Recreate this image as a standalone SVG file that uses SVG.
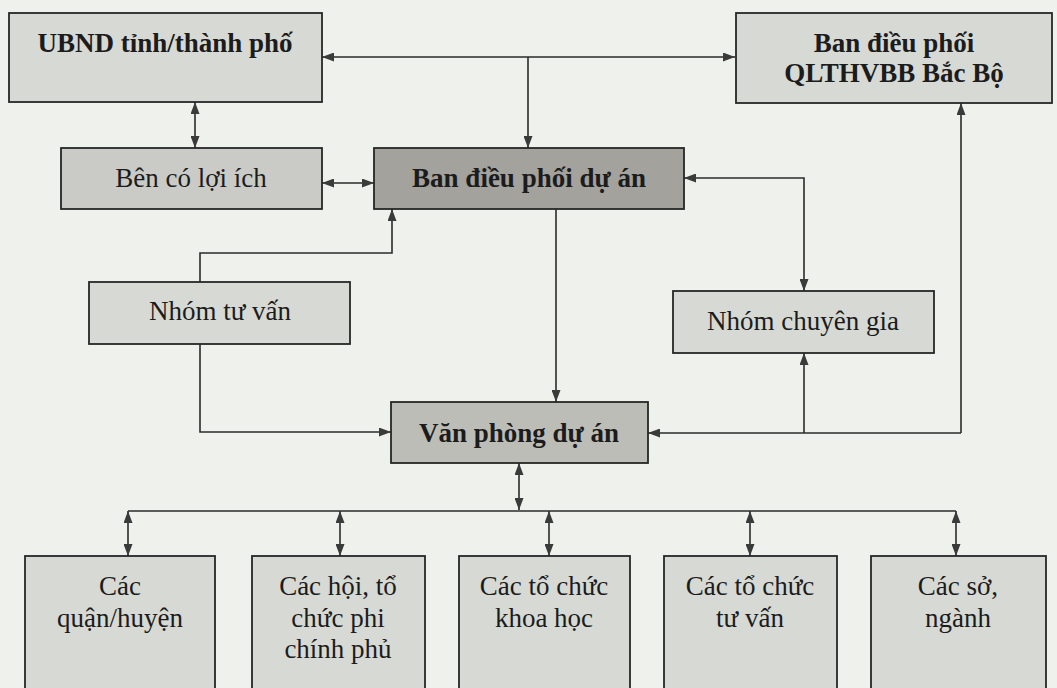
<svg xmlns="http://www.w3.org/2000/svg" width="1057" height="688" viewBox="0 0 1057 688">
<style>
.box{stroke:#262626;stroke-width:1.8}
.light{fill:#d7d9d4}
.mid{fill:#cacbc6}
.dark{fill:#a3a29d}
.vp{fill:#bdbdb8}
text{font-family:"Liberation Serif","Times New Roman",serif;font-size:27px;fill:#1c1c1c;text-anchor:middle}
.b{font-weight:bold}
.c{fill:none;stroke:#2b2b2b;stroke-width:1.6}
</style>
<defs>
<marker id="ah" viewBox="0 0 12 9" refX="12" refY="4.5" markerWidth="12" markerHeight="9" markerUnits="userSpaceOnUse" orient="auto-start-reverse">
<path d="M0,0 L12,4.5 L0,9 z" fill="#3a3a3a"/>
</marker>
</defs>
<rect x="0" y="0" width="1057" height="688" fill="#eff1ec"/>

<g id="connectors">
<path class="c" d="M322,57 H735" marker-start="url(#ah)" marker-end="url(#ah)"/>
<path class="c" d="M528,57 V148" marker-end="url(#ah)"/>
<path class="c" d="M195,102 V148" marker-start="url(#ah)" marker-end="url(#ah)"/>
<path class="c" d="M322,183 H374" marker-start="url(#ah)" marker-end="url(#ah)"/>
<path class="c" d="M684,178 H804 V291" marker-start="url(#ah)" marker-end="url(#ah)"/>
<path class="c" d="M200,282 V253 H392 V209" marker-end="url(#ah)"/>
<path class="c" d="M200,344 V432 H391" marker-end="url(#ah)"/>
<path class="c" d="M556,209 V402" marker-end="url(#ah)"/>
<path class="c" d="M961,433 H648" marker-end="url(#ah)"/>
<path class="c" d="M961,433 V103" marker-end="url(#ah)"/>
<path class="c" d="M804,433 V353" marker-end="url(#ah)"/>
<path class="c" d="M519,463 V510" marker-start="url(#ah)" marker-end="url(#ah)"/>
<path class="c" d="M128,511 H956"/>
<path class="c" d="M128,511 V556" marker-start="url(#ah)" marker-end="url(#ah)"/>
<path class="c" d="M340,511 V556" marker-start="url(#ah)" marker-end="url(#ah)"/>
<path class="c" d="M549,511 V556" marker-start="url(#ah)" marker-end="url(#ah)"/>
<path class="c" d="M750,511 V556" marker-start="url(#ah)" marker-end="url(#ah)"/>
<path class="c" d="M956,511 V556" marker-start="url(#ah)" marker-end="url(#ah)"/>
</g>

<g id="ubnd">
<rect class="box light" x="9" y="13" width="313" height="89"/>
<text class="b" x="165" y="52">UBND tỉnh/thành phố</text>
</g>
<g id="ban-dieu-phoi-bac-bo">
<rect class="box light" x="736" y="13" width="316" height="90"/>
<text class="b" x="894" y="52">Ban điều phối</text>
<text class="b" x="894" y="82">QLTHVBB Bắc Bộ</text>
</g>
<g id="ben-co-loi-ich">
<rect class="box mid" x="61" y="148" width="261" height="61"/>
<text x="191" y="187">Bên có lợi ích</text>
</g>
<g id="ban-dieu-phoi-du-an">
<rect class="box dark" x="374" y="148" width="310" height="61"/>
<text class="b" x="529" y="187">Ban điều phối dự án</text>
</g>
<g id="nhom-tu-van">
<rect class="box light" x="89" y="282" width="261" height="62"/>
<text x="220" y="320">Nhóm tư vấn</text>
</g>
<g id="nhom-chuyen-gia">
<rect class="box light" x="673" y="291" width="261" height="62"/>
<text x="803" y="330">Nhóm chuyên gia</text>
</g>
<g id="van-phong-du-an">
<rect class="box vp" x="391" y="402" width="257" height="61"/>
<text class="b" x="519" y="442">Văn phòng dự án</text>
</g>
<g id="quan-huyen">
<rect class="box light" x="25" y="556" width="190" height="140"/>
<text x="120" y="595">Các</text>
<text x="120" y="627">quận/huyện</text>
</g>
<g id="hoi-to-chuc">
<rect class="box light" x="252" y="556" width="173" height="140"/>
<text x="338" y="595">Các hội, tổ</text>
<text x="338" y="627">chức phi</text>
<text x="338" y="658">chính phủ</text>
</g>
<g id="khoa-hoc">
<rect class="box light" x="459" y="556" width="171" height="140"/>
<text x="544" y="595">Các tổ chức</text>
<text x="544" y="627">khoa học</text>
</g>
<g id="to-chuc-tu-van">
<rect class="box light" x="664" y="556" width="173" height="140"/>
<text x="750" y="595">Các tổ chức</text>
<text x="750" y="627">tư vấn</text>
</g>
<g id="so-nganh">
<rect class="box light" x="871" y="556" width="175" height="140"/>
<text x="958" y="595">Các sở,</text>
<text x="958" y="627">ngành</text>
</g>
</svg>
